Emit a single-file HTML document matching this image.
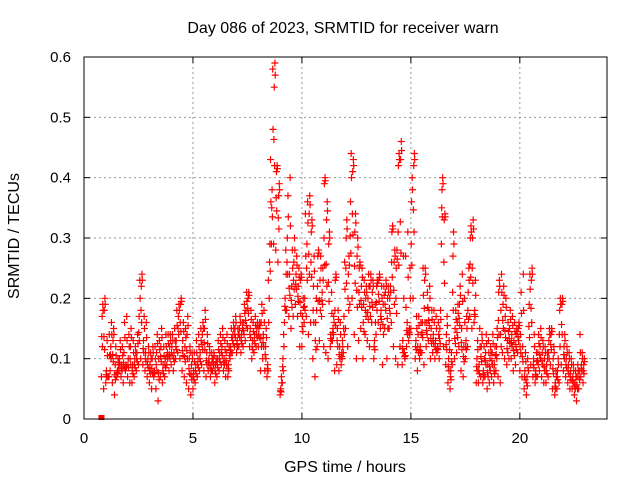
<!DOCTYPE html>
<html><head><meta charset="utf-8"><style>
body{margin:0;background:#fff;}
svg{display:block;font-family:"Liberation Sans",sans-serif;}
</style></head><body>
<svg id="chart" width="640" height="480" viewBox="0 0 640 480" xmlns="http://www.w3.org/2000/svg">
<text x="343" y="33" font-size="16" text-anchor="middle" fill="#000">Day 086 of 2023, SRMTID for receiver warn</text>
<text transform="translate(19,236) rotate(-90)" font-size="16" text-anchor="middle" fill="#000">SRMTID / TECUs</text>
<text x="345" y="472" font-size="16" text-anchor="middle" fill="#000">GPS time / hours</text>
<g id="grid"></g>
<g id="ticks"></g>
<g id="marks"></g>
<rect x="84" y="57" width="523" height="362" fill="none" stroke="#000" stroke-width="1"/>
</svg>
<script>
const xTicks=[0,5,10,15,20];
const yTicks=[0,0.1,0.2,0.3,0.4,0.5,0.6];
const yTickLabels=["0","0.1","0.2","0.3","0.4","0.5","0.6"];
const times=[0.8,0.9,1.0,1.1,1.2,1.3,1.4,1.5,1.6,1.7,1.8,1.9,
2.0,2.1,2.2,2.3,2.4,2.5,2.6,2.7,2.8,2.9,3.0,3.1,3.2,3.3,3.4,3.5,3.6,3.7,3.8,3.9,
4.0,4.1,4.2,4.3,4.4,4.5,4.6,4.7,4.8,4.9,5.0,5.1,5.2,5.3,5.4,5.5,5.6,5.7,5.8,5.9,
6.0,6.1,6.2,6.3,6.4,6.5,6.6,6.7,6.8,6.9,7.0,7.1,7.2,7.3,7.4,7.5,7.6,7.7,7.8,7.9,
8.0,8.1,8.2,8.3,8.4,8.5,8.6,8.7,8.8,8.9,9.0,9.1,9.2,9.3,9.4,9.5,9.6,9.7,9.8,9.9,
10.0,10.1,10.2,10.3,10.4,10.5,10.6,10.7,10.8,10.9,11.0,11.1,11.2,11.3,11.4,11.5,11.6,11.7,11.8,11.9,
12.0,12.1,12.2,12.3,12.4,12.5,12.6,12.7,12.8,12.9,13.0,13.1,13.2,13.3,13.4,13.5,13.6,13.7,13.8,13.9,
14.0,14.1,14.2,14.3,14.4,14.5,14.6,14.7,14.8,14.9,15.0,15.1,15.2,15.3,15.4,15.5,15.6,15.7,15.8,15.9,
16.0,16.1,16.2,16.3,16.4,16.5,16.6,16.7,16.8,16.9,17.0,17.1,17.2,17.3,17.4,17.5,17.6,17.7,17.8,17.9,
18.0,18.1,18.2,18.3,18.4,18.5,18.6,18.7,18.8,18.9,19.0,19.1,19.2,19.3,19.4,19.5,19.6,19.7,19.8,19.9,
20.0,20.1,20.2,20.3,20.4,20.5,20.6,20.7,20.8,20.9,21.0,21.1,21.2,21.3,21.4,21.5,21.6,21.7,21.8,21.9,
22.0,22.1,22.2,22.3,22.4,22.5,22.6,22.7,22.8,22.9];
const seriesMid=[.17,.18,.08,.07,.12,.13,.09,.08,.10,.09,.11,.09,
.10,.12,.09,.10,.11,.17,.22,.13,.11,.10,.09,.10,.08,.11,.10,.12,.09,.10,.11,.12,
.12,.11,.13,.17,.19,.13,.12,.14,.10,.09,.08,.09,.10,.11,.14,.15,.11,.10,.09,.10,
.09,.10,.11,.12,.10,.11,.09,.12,.14,.15,.13,.15,.14,.16,.18,.20,.15,.13,.14,.15,
.15,.16,.14,.12,.09,.29,.38,.55,.41,.37,.05,.10,.20,.30,.24,.22,.26,.24,.22,.23,
.17,.20,.29,.34,.31,.22,.16,.27,.23,.21,.39,.33,.29,.14,.15,.23,.15,.12,.11,.17,
.30,.24,.36,.41,.31,.27,.25,.22,.19,.20,.20,.22,.21,.13,.22,.23,.18,.19,.21,.20,
.20,.31,.26,.25,.42,.43,.13,.10,.16,.15,.36,.42,.13,.14,.12,.16,.23,.16,.18,.15,
.14,.13,.12,.15,.38,.33,.14,.10,.08,.27,.15,.16,.19,.15,.12,.13,.21,.30,.30,.18,
.10,.09,.12,.08,.11,.09,.10,.11,.09,.12,.21,.18,.19,.17,.13,.15,.14,.13,.14,.15,
.14,.12,.08,.07,.19,.23,.10,.08,.11,.12,.11,.10,.09,.13,.14,.10,.06,.08,.18,.19,
.12,.10,.09,.08,.07,.06,.07,.08,.09,.09];
const seriesHigh=[.19,.20,.13,.14,.16,.15,.12,.10,.13,.12,.16,.17,
.14,.15,.13,.12,.14,.23,.24,.17,.16,.12,.11,.12,.12,.14,.13,.15,.12,.14,.14,.14,
.14,.15,.18,.19,.20,.16,.15,.17,.12,.11,.11,.13,.14,.15,.16,.18,.14,.12,.11,.11,
.10,.13,.14,.15,.13,.14,.12,.15,.16,.17,.15,.17,.16,.19,.21,.21,.18,.16,.17,.16,
.16,.19,.18,.15,.23,.43,.58,.59,.42,.39,.07,.14,.28,.37,.40,.28,.30,.27,.25,.24,
.20,.34,.36,.37,.33,.27,.20,.28,.27,.25,.40,.36,.31,.21,.17,.24,.18,.16,.13,.26,
.33,.27,.44,.43,.34,.30,.26,.25,.23,.22,.24,.24,.23,.19,.23,.24,.22,.22,.23,.22,
.22,.32,.28,.28,.44,.46,.27,.27,.31,.25,.40,.44,.17,.17,.16,.25,.25,.21,.22,.18,
.18,.17,.16,.18,.40,.34,.17,.13,.11,.31,.18,.19,.22,.24,.20,.17,.25,.32,.33,.23,
.13,.15,.14,.12,.14,.13,.12,.14,.12,.15,.23,.24,.22,.20,.16,.18,.17,.16,.15,.16,
.21,.24,.11,.10,.24,.25,.14,.11,.14,.15,.13,.12,.11,.15,.15,.12,.08,.10,.20,.20,
.14,.12,.11,.10,.09,.08,.09,.14,.11,.10];
const seriesLow=[.07,.05,.06,.07,.08,.06,.04,.07,.08,.07,.06,.08,
.07,.06,.06,.07,.08,.09,.10,.09,.08,.07,.06,.05,.07,.05,.03,.07,.06,.07,.09,.08,
.09,.08,.10,.11,.10,.08,.07,.06,.05,.04,.05,.06,.07,.08,.09,.08,.07,.08,.07,.08,
.06,.07,.08,.09,.08,.07,.07,.10,.11,.12,.11,.12,.11,.12,.13,.15,.12,.10,.11,.12,
.12,.08,.10,.08,.07,.20,.29,.29,.28,.26,.04,.06,.16,.18,.17,.15,.17,.19,.17,.12,
.12,.16,.17,.14,.16,.10,.07,.12,.13,.17,.12,.11,.10,.12,.13,.08,.09,.08,.09,.11,
.15,.12,.19,.20,.14,.10,.13,.15,.10,.14,.13,.12,.16,.10,.14,.16,.15,.09,.15,.10,
.15,.16,.12,.10,.09,.12,.09,.11,.12,.13,.15,.20,.10,.08,.10,.11,.09,.12,.13,.10,
.11,.10,.11,.10,.29,.12,.09,.06,.05,.09,.10,.11,.12,.08,.07,.10,.12,.17,.15,.16,
.06,.06,.07,.06,.07,.05,.06,.07,.06,.08,.07,.06,.11,.10,.09,.10,.10,.08,.09,.11,
.08,.07,.05,.04,.08,.09,.07,.06,.07,.08,.07,.06,.06,.07,.09,.05,.04,.05,.06,.09,
.08,.07,.06,.05,.05,.04,.03,.05,.07,.06];

const X0=84,X1=607,Y0=419,Y1=57,XMAX=24,YMAX=0.6;
function xs(v){return X0+(X1-X0)*v/XMAX;}
function ys(v){return Y0-(Y0-Y1)*v/YMAX;}
const NS="http://www.w3.org/2000/svg";
const grid=document.getElementById('grid'),ticks=document.getElementById('ticks'),marks=document.getElementById('marks');
function mk(tag,attrs,parent){const e=document.createElementNS(NS,tag);for(const k in attrs)e.setAttribute(k,attrs[k]);parent.appendChild(e);return e;}
xTicks.forEach(t=>{
  const x=xs(t);
  if(t>0){const g=mk('line',{x1:x,x2:x,y1:Y1,y2:Y0,stroke:'#999','stroke-dasharray':'2,3','stroke-width':1},grid);
  
  }
  const l=mk('text',{x:x,y:Y0+24,'font-size':15,'text-anchor':'middle',fill:'#000'},ticks);
  
  
  l.textContent=t;
  mk('line',{x1:x,x2:x,y1:Y0,y2:Y0-6,stroke:'#000'},ticks);
  mk('line',{x1:x,x2:x,y1:Y1,y2:Y1+6,stroke:'#000'},ticks);
});
yTicks.forEach((t,i)=>{
  const y=ys(t);
  if(t>0&&t<YMAX){const g=mk('line',{x1:X0,x2:X1,y1:y,y2:y,stroke:'#999','stroke-dasharray':'2,3','stroke-width':1},grid);
  
  }
  const l=mk('text',{x:X0-13,y:y+5,'font-size':15,'text-anchor':'end',fill:'#000'},ticks);
  
  
  l.textContent=yTickLabels[i];
  mk('line',{x1:X0,x2:X0+6,y1:y,y2:y,stroke:'#000'},ticks);
  mk('line',{x1:X1,x2:X1-6,y1:y,y2:y,stroke:'#000'},ticks);
});
function plus(t,v,color){
  const x=xs(t),y=ys(v);
  const p=mk('path',{d:`M${x-3.5},${y}H${x+3.5}M${x},${y-3.5}V${y+3.5}`,stroke:color,'stroke-width':1.2,fill:'none'},marks);
  
  
}
times.forEach((t,i)=>{
  plus(t,seriesLow[i],'#f00');
  plus(t+0.03,seriesMid[i],'#f00');
  plus(t+0.06,seriesHigh[i],'#f00');
  plus(t+0.045,(seriesMid[i]+seriesLow[i])/2,'#f00');
  plus(t+0.075,(seriesMid[i]+seriesHigh[i])/2,'#f00');
  plus(t+0.015,(seriesMid[i]*2+seriesLow[i])/3,'#f00');
});
const sq=mk('rect',{x:xs(0.8)-3,y:ys(0)-4,width:6,height:5,fill:'#f00'},marks);


</script>
</body></html>
